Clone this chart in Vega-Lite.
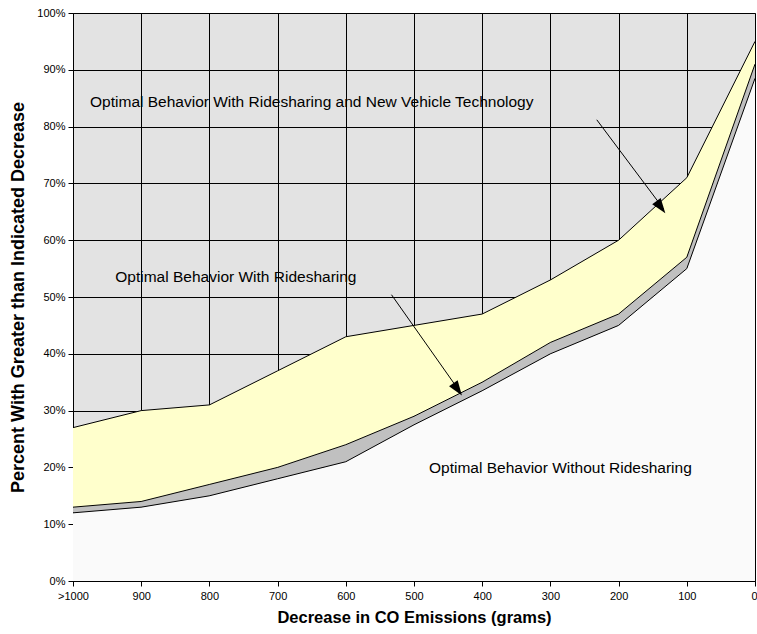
{
  "$schema": "https://vega.github.io/schema/vega-lite/v6.json",
  "width": 682,
  "height": 568,
  "autosize": "none",
  "padding": {"left": 73, "top": 13, "right": 2, "bottom": 53},
  "background": "white",
  "config": {
    "font": "Liberation Sans",
    "view": {"stroke": "#808080", "fill": "#e3e3e3", "strokeWidth": 1},
    "axis": {
      "domainColor": "#000000",
      "tickColor": "#000000",
      "gridColor": "#000000",
      "gridOpacity": 1,
      "gridWidth": 1,
      "labelColor": "#000000",
      "titleColor": "#000000",
      "labelFont": "Liberation Sans",
      "titleFont": "Liberation Sans",
      "labelFontSize": 11,
      "titleFontWeight": "bold",
      "tickSize": 5
    }
  },
  "datasets": {
    "bands": [
      {"grams": 1000, "top": 27, "mid": 13, "bot": 12},
      {"grams": 900, "top": 30, "mid": 14, "bot": 13},
      {"grams": 800, "top": 31, "mid": 17, "bot": 15},
      {"grams": 700, "top": 37, "mid": 20, "bot": 18},
      {"grams": 600, "top": 43, "mid": 24, "bot": 21},
      {"grams": 500, "top": 45, "mid": 29, "bot": 27.5},
      {"grams": 400, "top": 47, "mid": 35, "bot": 33.5},
      {"grams": 300, "top": 53, "mid": 42, "bot": 40},
      {"grams": 200, "top": 60, "mid": 47, "bot": 45},
      {"grams": 100, "top": 71, "mid": 57, "bot": 55},
      {"grams": 0, "top": 95, "mid": 91, "bot": 88.5}
    ],
    "labels": [
      {"grams": 975, "pct": 84.3, "text": "Optimal Behavior With Ridesharing and New Vehicle Technology"},
      {"grams": 938, "pct": 53.5, "text": "Optimal Behavior With Ridesharing"},
      {"grams": 478, "pct": 19.9, "text": "Optimal Behavior Without Ridesharing"}
    ],
    "arrows": [
      {"g1": 232, "p1": 81.2, "g2": 134, "p2": 65.5},
      {"g1": 533, "p1": 50.4, "g2": 432, "p2": 33.2}
    ],
    "head1": [{"grams": 138, "pct": 65.8}],
    "head2": [{"grams": 436, "pct": 33.75}]
  },
  "layer": [
    {
      "data": {"name": "bands"},
      "mark": {"type": "area", "fill": "#fafafa", "opacity": 1},
      "encoding": {
        "x": {
          "field": "grams", "type": "quantitative",
          "scale": {"domain": [1000, 0], "nice": false, "zero": false},
          "axis": {
            "values": [1000, 900, 800, 700, 600, 500, 400, 300, 200, 100, 0],
            "labelExpr": "datum.value == 1000 ? '>1000' : datum.label",
            "labelAlign": {"expr": "datum.value == 0 ? 'right' : 'center'"},
            "labelOffset": {"expr": "datum.value == 0 ? 2 : 0"},
            "title": "Decrease in CO Emissions (grams)",
            "titleFontSize": 16.5,
            "titlePadding": 8,
            "labelPadding": 4,
            "grid": true,
            "labelFlush": false
          }
        },
        "y": {
          "field": "bot", "type": "quantitative",
          "scale": {"domain": [0, 100], "nice": false},
          "axis": {
            "values": [0, 10, 20, 30, 40, 50, 60, 70, 80, 90, 100],
            "labelExpr": "datum.value + '%'",
            "title": "Percent With Greater than Indicated Decrease",
            "titleFontSize": 18,
            "titlePadding": 9,
            "labelPadding": 3,
            "grid": true
          }
        },
        "y2": {"datum": 0}
      }
    },
    {
      "data": {"name": "bands"},
      "mark": {"type": "area", "fill": "#c0c0c0", "opacity": 1},
      "encoding": {
        "x": {"field": "grams", "type": "quantitative"},
        "y": {"field": "mid", "type": "quantitative"},
        "y2": {"field": "bot"}
      }
    },
    {
      "data": {"name": "bands"},
      "mark": {"type": "area", "fill": "#ffffcc", "opacity": 1},
      "encoding": {
        "x": {"field": "grams", "type": "quantitative"},
        "y": {"field": "top", "type": "quantitative"},
        "y2": {"field": "mid"}
      }
    },
    {
      "data": {"name": "bands"},
      "mark": {"type": "line", "color": "#000000", "strokeWidth": 1},
      "encoding": {
        "x": {"field": "grams", "type": "quantitative"},
        "y": {"field": "top", "type": "quantitative"}
      }
    },
    {
      "data": {"name": "bands"},
      "mark": {"type": "line", "color": "#000000", "strokeWidth": 1},
      "encoding": {
        "x": {"field": "grams", "type": "quantitative"},
        "y": {"field": "mid", "type": "quantitative"}
      }
    },
    {
      "data": {"name": "bands"},
      "mark": {"type": "line", "color": "#000000", "strokeWidth": 1},
      "encoding": {
        "x": {"field": "grams", "type": "quantitative"},
        "y": {"field": "bot", "type": "quantitative"}
      }
    },
    {
      "data": {"name": "labels"},
      "mark": {"type": "text", "align": "left", "baseline": "middle", "fontSize": 15.5, "font": "Liberation Sans", "color": "#000000"},
      "encoding": {
        "x": {"field": "grams", "type": "quantitative"},
        "y": {"field": "pct", "type": "quantitative"},
        "text": {"field": "text"}
      }
    },
    {
      "data": {"name": "arrows"},
      "mark": {"type": "rule", "color": "#000000", "strokeWidth": 1},
      "encoding": {
        "x": {"field": "g1", "type": "quantitative"},
        "y": {"field": "p1", "type": "quantitative"},
        "x2": {"field": "g2"},
        "y2": {"field": "p2"}
      }
    },
    {
      "data": {"name": "head1"},
      "mark": {"type": "point", "shape": "M0,-1L0.7,1L-0.7,1Z", "filled": true, "color": "#000000", "opacity": 1, "size": 225, "angle": 143.7},
      "encoding": {
        "x": {"field": "grams", "type": "quantitative"},
        "y": {"field": "pct", "type": "quantitative"}
      }
    },
    {
      "data": {"name": "head2"},
      "mark": {"type": "point", "shape": "M0,-1L0.7,1L-0.7,1Z", "filled": true, "color": "#000000", "opacity": 1, "size": 225, "angle": 145},
      "encoding": {
        "x": {"field": "grams", "type": "quantitative"},
        "y": {"field": "pct", "type": "quantitative"}
      }
    }
  ]
}
